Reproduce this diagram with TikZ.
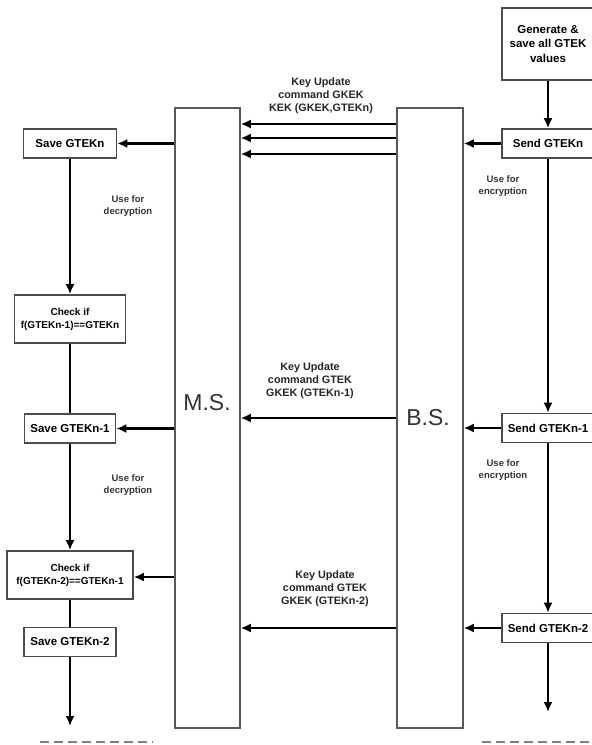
\documentclass[tikz,border=0pt]{standalone}
\usepackage{fontspec}
\setmainfont{Liberation Sans}
\usepackage{tikz}
\usetikzlibrary{shapes, arrows.meta, positioning, calc}

\begin{document}
\begin{tikzpicture}[x=1pt, y=-1pt,
    box/.style={rectangle, draw=black!70, line width=1.6pt, inner sep=0pt, font=\fontsize{11.5}{14.5}\selectfont\bfseries, align=center, minimum height=29pt},
    check/.style={box, font=\fontsize{10}{13}\selectfont\bfseries, minimum height=48pt},
    station/.style={rectangle, draw=black!65, line width=1.5pt, minimum width=65pt, minimum height=620pt, inner sep=0pt},
    stname/.style={font=\fontsize{23}{23}\selectfont, text=black!80},
    msg/.style={font=\fontsize{10.8}{13}\selectfont\bfseries, align=center, text=black!85},
    note/.style={font=\fontsize{9.5}{12}\selectfont\bfseries, align=center, text=black!80},
    arrow/.style={-{Latex[length=10pt, width=9pt]}, line width=2.2pt},
    link/.style={line width=2.2pt},
    etc/.style={draw=black!50, line width=2.6pt, dash pattern=on 9pt off 5pt}
]
    \useasboundingbox (0,0) rectangle (592,745);
    \clip (0,0) rectangle (592,745);

    % the two stations
    \node [station] (ms) at (207.5,418) {};
    \node [station, minimum width=66pt] (bs) at (430,418) {};
    \node [stname] (mslbl) at (207,403) {M.S.};
    \node [stname] (bslbl) at (428,418) {B.S.};

    % B.S. side
    \node [box, minimum width=92pt, minimum height=72pt] (gen) at (548,44) {Generate \&\\save all GTEK\\values};
    \node [box, minimum width=92pt] (sendn) at (548,143.5) {Send GTEKn};
    \node [box, minimum width=92pt] (sendn1) at (548,428) {Send GTEKn-1};
    \node [box, minimum width=92pt] (sendn2) at (548,628) {Send GTEKn-2};

    % M.S. side
    \node [box, minimum width=93pt] (saven) at (70,143.5) {Save GTEKn};
    \node [check, minimum width=111pt] (checkn) at (70,319) {Check if\\f(GTEKn-1)==GTEKn};
    \node [box, minimum width=91pt] (saven1) at (70,428.5) {Save GTEKn-1};
    \node [check, minimum width=126pt] (checkn1) at (70,575) {Check if\\f(GTEKn-2)==GTEKn-1};
    \node [box, minimum width=92pt] (saven2) at (70,642) {Save GTEKn-2};

    % labels
    \node [msg] (upd1) at (321,96) {Key Update\\command GKEK\\KEK (GKEK,GTEKn)};
    \node [msg] (upd2) at (310,381) {Key Update\\command GTEK\\GKEK (GTEKn-1)};
    \node [msg] (upd3) at (325,589) {Key Update\\command GTEK\\GKEK (GTEKn-2)};
    \node [note] (enc1) at (503,186) {Use for\\encryption};
    \node [note] (enc2) at (503,470) {Use for\\encryption};
    \node [note] (dec1) at (128,206) {Use for\\decryption};
    \node [note] (dec2) at (128,485) {Use for\\decryption};

    \coordinate (msend) at (70,726);
    \coordinate (bsend) at (548,712);
    \coordinate (dl1) at (40,742);
    \coordinate (dl2) at (153,742);
    \coordinate (dr1) at (482,742);
    \coordinate (dr2) at (596,742);

    % B.S. flow
    \draw [arrow] (gen.south) -- (sendn.north);
    \draw [arrow] (sendn.south) -- (sendn1.north);
    \draw [arrow] (sendn1.south) -- (sendn2.north);
    \draw [arrow] (sendn2.south) -- (bsend);
    \draw [arrow] (sendn.west) -- (bs.east |- sendn.west);
    \draw [arrow] (sendn1.west) -- (bs.east |- sendn1.west);
    \draw [arrow] (sendn2.west) -- (bs.east |- sendn2.west);

    % messages B.S. -> M.S.
    \foreach \y in {124,138,154}
        \draw [arrow] (bs.west |- 0,\y) -- (ms.east |- 0,\y);
    \draw [arrow] (bs.west) -- (ms.east);
    \draw [arrow] (bs.west |- sendn2.west) -- (ms.east |- sendn2.west);

    % M.S. flow
    \draw [arrow] (ms.west |- saven.east) -- (saven.east);
    \draw [arrow] (ms.west |- saven1.east) -- (saven1.east);
    \draw [arrow] (ms.west |- 0,577) -- (checkn1.east |- 0,577);
    \draw [arrow] (saven.south) -- (checkn.north);
    \draw [link] (checkn.south) -- (saven1.north);
    \draw [arrow] (saven1.south) -- (checkn1.north);
    \draw [link] (checkn1.south) -- (saven2.north);
    \draw [arrow] (saven2.south) -- (msend);

    \draw [etc] (dl1) -- (dl2);
    \draw [etc] (dr1) -- (dr2);
\end{tikzpicture}
\end{document}
